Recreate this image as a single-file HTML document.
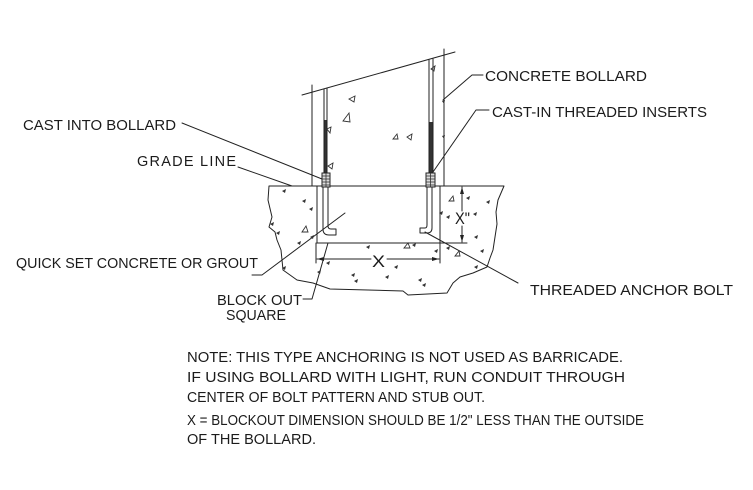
<!DOCTYPE html>
<html><head><meta charset="utf-8"><style>
html,body{margin:0;padding:0;background:#fff;}
svg{display:block;}
text{font-family:"Liberation Sans",Arial,sans-serif;fill:#1b1b1b;}
</style></head><body>
<svg width="753" height="490" viewBox="0 0 753 490" xmlns="http://www.w3.org/2000/svg">
<g stroke="#222" stroke-width="1" fill="none" stroke-linecap="round" stroke-linejoin="round">
<!-- bollard -->
<line x1="302" y1="95" x2="455" y2="52"/>
<line x1="312" y1="85" x2="312" y2="186"/>
<line x1="444" y1="49" x2="444" y2="186"/>
<!-- inserts rods -->
<line x1="324" y1="89" x2="324" y2="173"/>
<line x1="327" y1="88" x2="327" y2="173"/>
<line x1="429" y1="60" x2="429" y2="173"/>
<line x1="433" y1="59" x2="433" y2="173"/>
<!-- concrete outline -->
<path d="M269,186 L504,186 L498,200 L496,212 L497,224 L495,237 L493,250 L490,258 L487,267 L473,273 L460,277 L453,283 L447,293 L408,295 L403,291 L330,289 L313,283 L297,280 L283,270 L282,260 L281,250 L277,240 L275,232 L269,227 L272,217 L268,200 Z"/>
<!-- block out -->
<line x1="317" y1="186" x2="317" y2="243"/>
<line x1="440" y1="186" x2="440" y2="243"/>
<line x1="317" y1="243" x2="467" y2="243"/>
<!-- bolts -->
<path d="M323,187 L323,229 Q323,235 329,235 L336,235 L336,229 L331,229 Q328,229 328,226 L328,187" fill="#fff"/>
<path d="M432,187 L432,228 Q432,233 427,233 L420,233 L420,228 L425,228 Q427,228 427,225 L427,187" fill="#fff"/>
<!-- X dim -->
<line x1="316" y1="243" x2="316" y2="263"/>
<line x1="440" y1="243" x2="440" y2="263"/>
<line x1="317" y1="259" x2="371" y2="259"/>
<line x1="387" y1="259" x2="439" y2="259"/>
<!-- X" dim -->
<line x1="462" y1="187" x2="462" y2="211"/>
<line x1="462" y1="226" x2="462" y2="242"/>
<!-- leaders -->
<line x1="182" y1="123" x2="322" y2="179"/>
<line x1="238" y1="167" x2="292" y2="186"/>
<polyline points="252,275 262,275 345,213"/>
<polyline points="303,299 312,299 328,243"/>
<polyline points="483,75 472,75 443,100"/>
<polyline points="489,110 476,110 433,172"/>
<line x1="518" y1="283" x2="425" y2="232"/>
</g>
<!-- dark insert fills -->
<rect x="324.5" y="120" width="2" height="53" fill="#333"/>
<rect x="429.5" y="122" width="3" height="51" fill="#333"/>
<!-- insert boxes -->
<g stroke="#222" stroke-width="1" fill="#ddd">
<rect x="322" y="173" width="8" height="14"/>
<rect x="426" y="173" width="9" height="14"/>
</g>
<g stroke="#333" stroke-width="0.8">
<line x1="326" y1="173" x2="326" y2="187"/>
<line x1="322" y1="176" x2="330" y2="176"/><line x1="322" y1="179" x2="330" y2="179"/><line x1="322" y1="182" x2="330" y2="182"/><line x1="322" y1="185" x2="330" y2="185"/>
<line x1="430.5" y1="173" x2="430.5" y2="187"/>
<line x1="426" y1="176" x2="435" y2="176"/><line x1="426" y1="179" x2="435" y2="179"/><line x1="426" y1="182" x2="435" y2="182"/><line x1="426" y1="185" x2="435" y2="185"/>
</g>
<!-- arrowheads -->
<g fill="#222">
<polygon points="317,259 324,257 324,261"/>
<polygon points="439,259 432,257 432,261"/>
<polygon points="462,187 460,194 464,194"/>
<polygon points="462,242 460,235 464,235"/>
</g>
<!-- aggregate -->
<g stroke="#333" stroke-width="0.9" fill="none">
<polygon points="349,99 355,96 354,102"/>
<polygon points="343,121 349,113 350,122"/>
<polygon points="327,129 331,127 330,133"/>
<polygon points="328,166 333,163 332,169"/>
<polygon points="393,139 397,134 398,139"/>
<polygon points="407,137 412,134 411,140"/>
<polygon points="431,69 435,66 434,71"/>
<polygon points="302,232 306,226 308,232"/>
<polygon points="404,248 408,243 410,248"/>
<polygon points="449,201 453,196 454,201"/>
<polygon points="455,256 459,251 460,256"/>
</g>
<g fill="#333">
<polygon points="282,191 286,189 285,193"/>
<polygon points="302,201 306,199 305,203"/>
<polygon points="309,209 313,207 312,211"/>
<polygon points="270,224 274,222 273,226"/>
<polygon points="276,233 280,231 279,235"/>
<polygon points="297,243 301,241 300,245"/>
<polygon points="310,237 314,235 313,239"/>
<polygon points="282,268 286,266 285,270"/>
<polygon points="326,263 330,261 329,265"/>
<polygon points="317,272 321,270 320,274"/>
<polygon points="366,247 370,245 369,249"/>
<polygon points="412,245 416,243 415,247"/>
<polygon points="434,251 438,249 437,253"/>
<polygon points="394,267 398,265 397,269"/>
<polygon points="351,275 355,273 354,277"/>
<polygon points="354,281 358,279 357,283"/>
<polygon points="385,277 389,275 388,279"/>
<polygon points="418,280 422,278 421,282"/>
<polygon points="422,285 426,283 425,287"/>
<polygon points="439,213 443,211 442,215"/>
<polygon points="446,217 450,215 449,219"/>
<polygon points="473,214 477,212 476,216"/>
<polygon points="486,202 490,200 489,204"/>
<polygon points="446,248 450,246 449,250"/>
<polygon points="474,237 478,235 477,239"/>
<polygon points="480,251 484,249 483,253"/>
<polygon points="474,267 478,265 477,269"/>
<polygon points="466,198 470,196 469,200"/>
<polygon points="442,101 445,100 444,104"/>
<polygon points="442,136 445,135 444,139"/>
</g>
<!-- labels -->
<g font-size="14.5">
<text x="23" y="130" textLength="153" lengthAdjust="spacingAndGlyphs">CAST INTO BOLLARD</text>
<text x="137" y="166" textLength="99" lengthAdjust="spacing">GRADE LINE</text>
<text x="16" y="268" textLength="242" lengthAdjust="spacingAndGlyphs">QUICK SET CONCRETE OR GROUT</text>
<text x="217" y="305" textLength="85" lengthAdjust="spacingAndGlyphs">BLOCK OUT</text>
<text x="226" y="320" textLength="60" lengthAdjust="spacingAndGlyphs">SQUARE</text>
<text x="485" y="81" textLength="162" lengthAdjust="spacingAndGlyphs">CONCRETE BOLLARD</text>
<text x="492" y="117" textLength="215" lengthAdjust="spacingAndGlyphs">CAST-IN THREADED INSERTS</text>
<text x="530" y="295" textLength="203" lengthAdjust="spacingAndGlyphs">THREADED ANCHOR BOLT</text>
<text x="187" y="362" textLength="436" lengthAdjust="spacingAndGlyphs">NOTE: THIS TYPE ANCHORING IS NOT USED AS BARRICADE.</text>
<text x="187" y="382" textLength="438" lengthAdjust="spacingAndGlyphs">IF USING BOLLARD WITH LIGHT, RUN CONDUIT THROUGH</text>
<text x="187" y="402" textLength="298" lengthAdjust="spacingAndGlyphs">CENTER OF BOLT PATTERN AND STUB OUT.</text>
<text x="187" y="425" textLength="457" lengthAdjust="spacingAndGlyphs">X = BLOCKOUT DIMENSION SHOULD BE 1/2" LESS THAN THE OUTSIDE</text>
<text x="187" y="444" textLength="129" lengthAdjust="spacingAndGlyphs">OF THE BOLLARD.</text>
</g>
<text x="372" y="267" font-size="17" textLength="13" lengthAdjust="spacingAndGlyphs">X</text>
<text x="455" y="224" font-size="17" textLength="15" lengthAdjust="spacingAndGlyphs">X"</text>
</svg>
</body></html>
